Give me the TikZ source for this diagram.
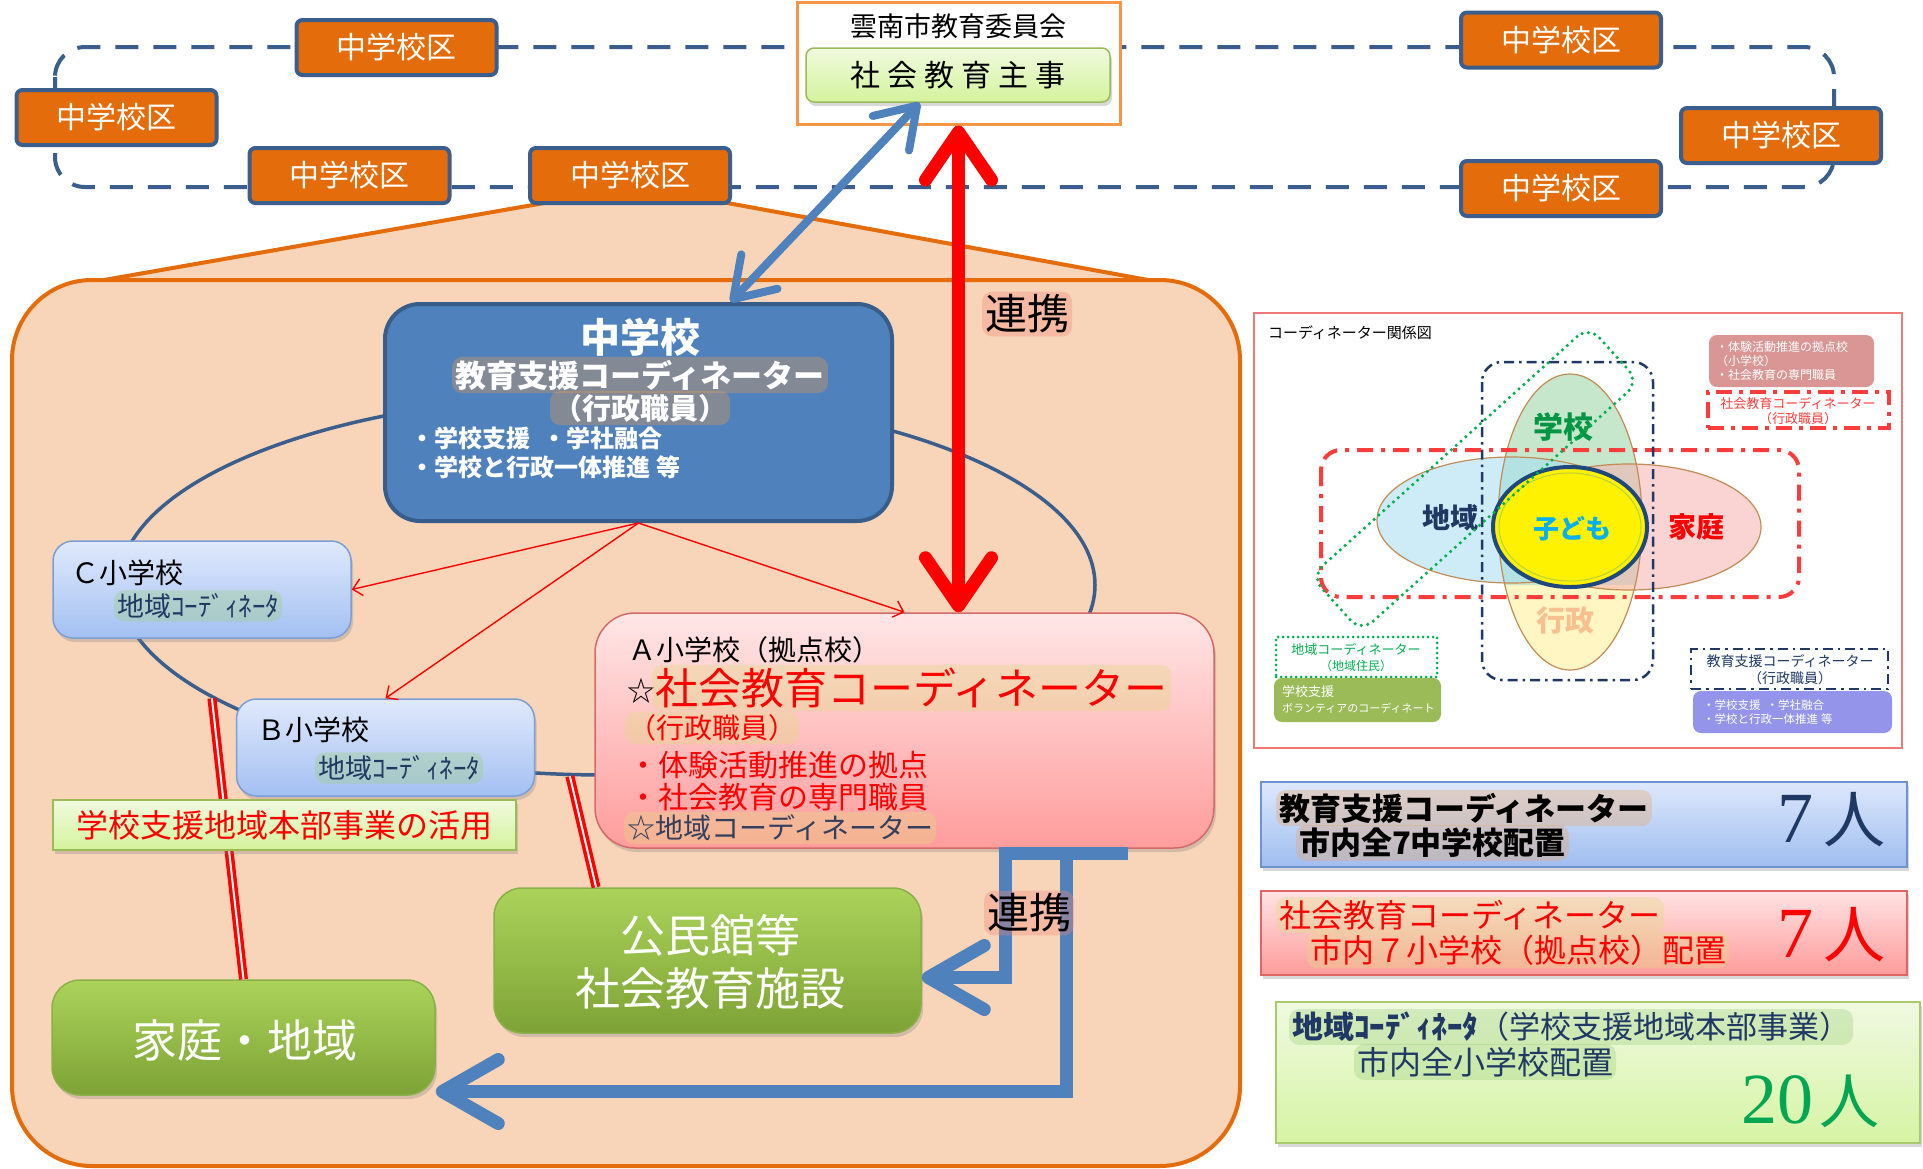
\documentclass[tikz,border=0pt]{standalone}
\usepackage{fontspec}
\setmainfont{Noto Sans CJK JP}
\newfontfamily\numfont{Liberation Serif}
\usetikzlibrary{arrows.meta,shapes.geometric,calc,shadows}

\definecolor{zorange}{HTML}{E46C0A}
\definecolor{znavy}{HTML}{3B5E8C}
\definecolor{peach}{HTML}{F8D5B8}
\definecolor{topor}{HTML}{F79646}
\definecolor{lgtop}{HTML}{F0FADF}
\definecolor{lgbot}{HTML}{D4F39C}
\definecolor{lgline}{HTML}{9BBB59}
\definecolor{sblue}{HTML}{4F81BD}
\definecolor{sbluedark}{HTML}{385D8A}
\definecolor{lbtop}{HTML}{E0E9FC}
\definecolor{lbbot}{HTML}{A3C0F2}
\definecolor{lbline}{HTML}{7B9ED8}
\definecolor{pktop}{HTML}{FFE6E6}
\definecolor{pkbot}{HTML}{FF9C9C}
\definecolor{pkline}{HTML}{D46A6A}
\definecolor{dgtop}{HTML}{ABD35A}
\definecolor{dgbot}{HTML}{7EA236}
\definecolor{dgline}{HTML}{8AB04A}
\definecolor{halobrown}{HTML}{E89A50}
\definecolor{haloyel}{HTML}{E0DC80}
\definecolor{halogreen}{HTML}{9CCF7E}
\definecolor{halosalmon}{HTML}{F08878}
\definecolor{haloorange}{HTML}{EBA66A}
\definecolor{navytext}{HTML}{1F3864}
\definecolor{darktext}{HTML}{333F5C}
\definecolor{panelred}{HTML}{F27878}
\definecolor{dashred}{HTML}{FF3C3C}
\definecolor{dotgreen}{HTML}{00B050}
\definecolor{gakko}{HTML}{C7E7CC}
\definecolor{gyosei}{HTML}{FFF6C4}
\definecolor{chiiki}{HTML}{A6DDF4}
\definecolor{kateiC}{HTML}{F6AFAF}
\definecolor{petal}{HTML}{C38C55}
\definecolor{circnavy}{HTML}{1F497D}
\definecolor{kodomoC}{HTML}{00B0F0}
\definecolor{gyoseitext}{HTML}{F9BF8F}
\definecolor{dustypink}{HTML}{D99694}
\definecolor{olive}{HTML}{9BBB59}
\definecolor{purplebox}{HTML}{9494EA}
\definecolor{greennum}{HTML}{00A651}
\definecolor{cbtop}{HTML}{DDE8FC}
\definecolor{cbbot}{HTML}{9FBDEF}
\definecolor{cbline}{HTML}{6E93D0}
\definecolor{crtop}{HTML}{FFE3E3}
\definecolor{crbot}{HTML}{FF9B9B}
\definecolor{crline}{HTML}{E06666}
\definecolor{cgtop}{HTML}{F0F9E0}
\definecolor{cgbot}{HTML}{D6F4A4}
\definecolor{cgline}{HTML}{A8C96C}

\newcommand\fsz[1]{\fontsize{#1}{#1}\selectfont}

\begin{document}
\begin{tikzpicture}[x=1pt,y=-1pt,
 txt/.style={inner sep=0pt,outer sep=0pt},
 glow/.style={fill=#1,fill opacity=0.35,text opacity=1,rounded corners=10pt,inner sep=3pt,outer sep=0pt},
 shadowed/.style={drop shadow={shadow xshift=2pt,shadow yshift=-4pt,opacity=0.3}},
 zbox/.style={draw=znavy,line width=4pt,fill=zorange,rounded corners=6pt,minimum width=200pt,minimum height=55pt,inner sep=0pt,text=white,font=\fsz{30}},
 lgbox/.style={draw=lgline,line width=1.5pt,top color=lgtop,bottom color=lgbot,inner sep=0pt},
 lbbox/.style={draw=lbline,line width=1.5pt,top color=lbtop,bottom color=lbbot,rounded corners=20pt,minimum width=298pt,minimum height=97pt,inner sep=0pt,shadowed},
 dgbox/.style={draw=dgline,line width=1.5pt,top color=dgtop,bottom color=dgbot,rounded corners=28pt,inner sep=0pt,text=white,shadowed},
 reddouble/.style={draw=red,line width=3.5pt,double=white,double distance=2pt},
 thinred/.style={draw=red,line width=1.4pt,-{Straight Barb[length=9pt,width=17pt]}},
 bigred/.style={draw=red,line width=13pt,{Straight Barb[length=48pt,width=66pt,round]}-{Straight Barb[length=48pt,width=66pt,round]}},
 bluediag/.style={draw=sblue,line width=8pt,{Straight Barb[length=38pt,width=50pt,round]}-{Straight Barb[length=38pt,width=50pt,round]}},
 bluefat/.style={draw=sblue,line width=13pt,-{Straight Barb[length=56pt,width=64pt,round]}},
]
\fill[white] (0,0) rectangle (1923,1168);
\useasboundingbox (0,0) rectangle (1923,1168);

% district track
\draw[znavy,line width=4pt,dash pattern=on 23pt off 15pt,rounded corners=30pt] (55,47) rectangle (1834,187);

% board of education
\node[draw=topor,line width=3pt,fill=white,minimum width=323pt,minimum height=122pt,inner sep=0pt] (iinkai) at (958.5,63) {};
\node[txt,font=\fsz{27}] (iinkaiT) at (958,26) {雲南市教育委員会};
\node[lgbox,minimum width=304pt,minimum height=54pt,rounded corners=8pt,font=\fsz{30},shadowed] (shuji) at (958,75) {社\hspace{7pt}会\hspace{7pt}教\hspace{7pt}育\hspace{7pt}主\hspace{7pt}事};

% peach area
\filldraw[fill=peach,draw=zorange,line width=4pt,line join=round] (550,202) -- (722,202) -- (1148,280) -- (104,280) -- cycle;
\filldraw[fill=peach,draw=zorange,line width=4pt,rounded corners=80pt] (12,280) rectangle (1240,1166);

% districts
\node[zbox] (z1) at (396.5,47.5) {中学校区};
\node[zbox] (z2) at (116.5,117.5) {中学校区};
\node[zbox] (z3) at (349.5,175.5) {中学校区};
\node[zbox] (z4) at (630,175.5) {中学校区};
\node[zbox] (z5) at (1561,40) {中学校区};
\node[zbox] (z6) at (1781,135.5) {中学校区};
\node[zbox] (z7) at (1561,188.5) {中学校区};

% ring
\node[ellipse,draw=znavy,line width=3.5pt,minimum width=976pt,minimum height=380pt,inner sep=0pt] (ring) at (607,585) {};

% boxes
\node[draw=sbluedark,line width=4pt,fill=sblue,rounded corners=35pt,minimum width=507pt,minimum height=217pt,inner sep=0pt] (chu) at (638.5,412.5) {};
\node[lbbox] (C) at (202,589.5) {};
\node[lbbox] (B) at (385.5,747.5) {};
\node[draw=pkline,line width=1.5pt,top color=pktop,bottom color=pkbot,rounded corners=40pt,minimum width=619pt,minimum height=235pt,inner sep=0pt,shadowed] (A) at (904.5,730.5) {};
\node[dgbox,minimum width=427pt,minimum height=145pt] (kom) at (707.5,960.5) {};
\node[dgbox,minimum width=383pt,minimum height=115pt] (katei) at (243.5,1037.5) {};

% red double lines
\draw[reddouble] (ring.196) -- (katei.north);
\draw[reddouble] (ring.259) -- ($(kom.north west)!0.24!(kom.north east)$);

% banner
\node[lgbox,minimum width=463pt,minimum height=50pt,text=red,font=\fsz{32},shadowed] (katsuyo) at (284.5,825) {学校支援地域本部事業の活用};

% thin arrows
\draw[thinred] (chu.south) -- (C.east);
\draw[thinred] (chu.south) -- (B.north);
\draw[thinred] (chu.south) -- (A.north);

% big arrows
\draw[bigred] (A.north -| iinkai.south) -- (iinkai.south);
\draw[bluediag] ($(chu.north west)!0.68!(chu.north east)$) -- ($(shuji.south west)!0.375!(shuji.south east)$);

\coordinate (barR) at (1128,853);
\coordinate (barM) at (1066,853);
\coordinate (barL) at (1005,853);
\draw[bluefat] (barR) -- (barL) |- ($(kom.east)+(0,17)$);
\draw[bluefat] (barM) |- ($(katei.east)+(0,54)$);

% labels
\node[glow=halosalmon,font=\fsz{42}] (ren1) at (1027,314) {連携};
\node[glow=halosalmon,font=\fsz{42}] (ren2) at (1029,913) {連携};

% junior high texts
\node[txt,font=\fsz{40}\bfseries,text=white] (chuT1) at (640,337) {中学校};
\node[glow=halobrown,font=\fsz{31}\bfseries,text=white] (chuT2) at (640,375) {教育支援コーディネーター};
\node[glow=halobrown,font=\fsz{29}\bfseries,text=white] (chuT3) at (640,408) {（行政職員）};
\node[txt,anchor=west,font=\fsz{24}\bfseries,text=white] (chuT4) at (410,438) {・学校支援\hspace{12pt}・学社融合};
\node[txt,anchor=west,font=\fsz{24}\bfseries,text=white] (chuT5) at (410,467) {・学校と行政一体推進\hspace{6pt}等};

% A school texts
\node[txt,anchor=west,font=\fsz{28}] (At1) at (628,650) {Ａ小学校（拠点校）};
\node[txt,anchor=west,font=\fsz{28}] (At2s) at (627,691) {☆};
\node[glow=haloyel,anchor=west,font=\fsz{43},text=red] (At2) at (652,688) {社会教育コーディネーター};
\node[glow=haloyel,anchor=west,font=\fsz{28},text=red] (At3) at (625,728) {（行政職員）};
\node[txt,anchor=west,font=\fsz{30},text=red] (At4) at (628,765) {・体験活動推進の拠点};
\node[txt,anchor=west,font=\fsz{30},text=red] (At5) at (628,797) {・社会教育の専門職員};
\node[glow=haloyel,anchor=west,font=\fsz{28},text=darktext] (At6) at (624,828) {☆地域コーディネーター};

% C, B texts
\node[txt,anchor=west,font=\fsz{28}] (Ct1) at (71,573) {Ｃ小学校};
\node[glow=halogreen,anchor=west,font=\fsz{27},text=navytext] (Ct2) at (114,606) {地域ｺｰﾃﾞｨﾈｰﾀ};
\node[txt,anchor=west,font=\fsz{28}] (Bt1) at (257,730) {Ｂ小学校};
\node[glow=halogreen,anchor=west,font=\fsz{27},text=navytext] (Bt2) at (315,768) {地域ｺｰﾃﾞｨﾈｰﾀ};

% green box texts
\node[txt,font=\fsz{45},text=white] (komT1) at (710,935) {公民館等};
\node[txt,font=\fsz{45},text=white] (komT2) at (710,988) {社会教育施設};
\node[txt,font=\fsz{45},text=white] (kateiT) at (245,1040) {家庭・地域};

% ===== right panel =====
\node[draw=panelred,line width=2.5pt,fill=white,minimum width=648pt,minimum height=435pt,inner sep=0pt] (panel) at (1578,530.5) {};
\node[txt,anchor=west,font=\fsz{15}] (ptitle) at (1268,333) {コーディネーター関係図};

\fill[gakko] (1570,522) ellipse[x radius=72pt,y radius=148pt];
\begin{scope}
\clip (1480,585) rectangle (1660,680);
\fill[gyosei] (1570,522) ellipse[x radius=72pt,y radius=148pt];
\end{scope}
\fill[chiiki,fill opacity=0.55] (1511,520) ellipse[x radius=134pt,y radius=63pt];
\fill[kateiC,fill opacity=0.55] (1629,527) ellipse[x radius=132pt,y radius=63pt];
\draw[petal,line width=1.2pt] (1570,522) ellipse[x radius=72pt,y radius=148pt];
\draw[petal,line width=1.2pt] (1511,520) ellipse[x radius=134pt,y radius=63pt];
\draw[petal,line width=1.2pt] (1629,527) ellipse[x radius=132pt,y radius=63pt];

\node[ellipse,draw=circnavy,fill=yellow,line width=4pt,minimum width=154pt,minimum height=120pt,inner sep=0pt] (kodomo) at (1570,527) {};
\draw[olive!70!yellow,line width=1pt] (kodomo.center) ellipse[x radius=71pt,y radius=54pt];
\node[txt,font=\fsz{26}\bfseries,text=kodomoC] (kodomoT) at (1572,529) {子ども};
\node[txt,font=\fsz{30}\bfseries,text=dotgreen!85!black] (lgak) at (1563,427) {学校};
\node[txt,font=\fsz{28}\bfseries,text=navytext] (lchi) at (1450,518) {地域};
\node[txt,font=\fsz{28}\bfseries,text=red] (lkat) at (1696,527) {家庭};
\node[txt,font=\fsz{29}\bfseries,text=gyoseitext] (lgyo) at (1565,620) {行政};

\draw[dashred,line width=4pt,dash pattern=on 16pt off 8pt on 4pt off 8pt,rounded corners=20pt] (1321,450) rectangle (1799,597);
\draw[navytext,line width=2.5pt,dash pattern=on 10pt off 5pt on 2.5pt off 5pt,rounded corners=20pt] (1482,362) rectangle (1653,680);
\node[draw=dotgreen,line width=3.5pt,dash pattern=on 0pt off 6.5pt,line cap=round,rounded corners=16pt,minimum width=374pt,minimum height=75pt,rotate=42,inner sep=0pt] (gdiag) at (1475,479) {};

\node[fill=dustypink,rounded corners=8pt,minimum width=165pt,minimum height=52pt,inner sep=0pt] (pk) at (1791.5,361) {};
\node[txt,anchor=west,font=\fsz{12},text=white] (pk1) at (1716,347) {・体験活動推進の拠点校};
\node[txt,anchor=west,font=\fsz{12},text=white] (pk2) at (1716,361) {（小学校）};
\node[txt,anchor=west,font=\fsz{12},text=white] (pk3) at (1716,375) {・社会教育の専門職員};

\node[draw=dashred,line width=3.5pt,dash pattern=on 16pt off 7pt on 4pt off 7pt,minimum width=181pt,minimum height=36pt,inner sep=0pt] (rd) at (1798.5,410) {};
\node[txt,font=\fsz{13},text=dashred] (rd1) at (1798,403) {社会教育コーディネーター};
\node[txt,font=\fsz{13},text=dashred] (rd2) at (1798,419) {（行政職員）};

\node[draw=dotgreen,line width=3pt,dash pattern=on 0pt off 5pt,line cap=round,minimum width=161pt,minimum height=40pt,inner sep=0pt] (gd) at (1356.5,657) {};
\node[txt,font=\fsz{13},text=dotgreen] (gd1) at (1356,649) {地域コーディネーター};
\node[txt,font=\fsz{12},text=dotgreen] (gd2) at (1356,666) {（地域住民）};

\node[fill=olive,rounded corners=8pt,minimum width=167pt,minimum height=44pt,inner sep=0pt] (ob) at (1357.5,700) {};
\node[txt,anchor=west,font=\fsz{13},text=white] (ob1) at (1282,692) {学校支援};
\node[txt,anchor=west,font=\fsz{11},text=white] (ob2) at (1282,708) {ボランティアのコーディネート};

\node[draw=navytext,line width=2.5pt,dash pattern=on 10pt off 5pt on 2.5pt off 5pt,minimum width=197pt,minimum height=40pt,inner sep=0pt] (nd) at (1789.5,669) {};
\node[txt,font=\fsz{14},text=navytext] (nd1) at (1790,661) {教育支援コーディネーター};
\node[txt,font=\fsz{14},text=navytext] (nd2) at (1790,678) {（行政職員）};

\node[fill=purplebox,rounded corners=8pt,minimum width=199pt,minimum height=42pt,inner sep=0pt] (pb) at (1792.5,712) {};
\node[txt,anchor=west,font=\fsz{11.5},text=white] (pb1) at (1703,705) {・学校支援\hspace{6pt}・学社融合};
\node[txt,anchor=west,font=\fsz{11.5},text=white] (pb2) at (1703,719) {・学校と行政一体推進\hspace{3pt}等};

% ===== count boxes =====
\node[draw=cbline,line width=1.5pt,top color=cbtop,bottom color=cbbot,minimum width=646pt,minimum height=85pt,inner sep=0pt,shadowed] (cnt1) at (1584,824.5) {};
\node[draw=crline,line width=1.5pt,top color=crtop,bottom color=crbot,minimum width=646pt,minimum height=84pt,inner sep=0pt,shadowed] (cnt2) at (1584,933) {};
\node[draw=cgline,line width=1.5pt,top color=cgtop,bottom color=cgbot,minimum width=644pt,minimum height=141pt,inner sep=0pt,shadowed] (cnt3) at (1598,1072.5) {};

\node[glow=haloorange,anchor=west,font=\fsz{31}\bfseries] (c1a) at (1276,808) {教育支援コーディネーター};
\node[glow=haloorange,anchor=west,font=\fsz{31}\bfseries] (c1b) at (1296,843) {市内全7中学校配置};
\node[txt,anchor=base east,text=navytext] (c1n) at (1885,842) {{\numfont\fsz{72}7}\hspace{10pt}{\fsz{62}人}};

\node[glow=haloyel,anchor=west,font=\fsz{32},text=red] (c2a) at (1276,915) {社会教育コーディネーター};
\node[glow=haloyel,anchor=west,font=\fsz{32},text=red] (c2b) at (1307,950) {市内７小学校（拠点校）配置};
\node[txt,anchor=base east,text=red] (c2n) at (1885,957) {{\numfont\fsz{72}7}\hspace{10pt}{\fsz{62}人}};

\node[glow=halogreen,anchor=west,font=\fsz{31},text=navytext] (c3a) at (1289,1027) {{\bfseries 地域ｺｰﾃﾞｨﾈｰﾀ}（学校支援地域本部事業）};
\node[glow=halogreen,anchor=west,font=\fsz{32},text=navytext] (c3b) at (1354,1062) {市内全小学校配置};
\node[txt,anchor=base east,text=greennum] (c3n) at (1879,1123) {{\numfont\fsz{72}20}\hspace{6pt}{\fsz{60}人}};
\end{tikzpicture}
\end{document}
